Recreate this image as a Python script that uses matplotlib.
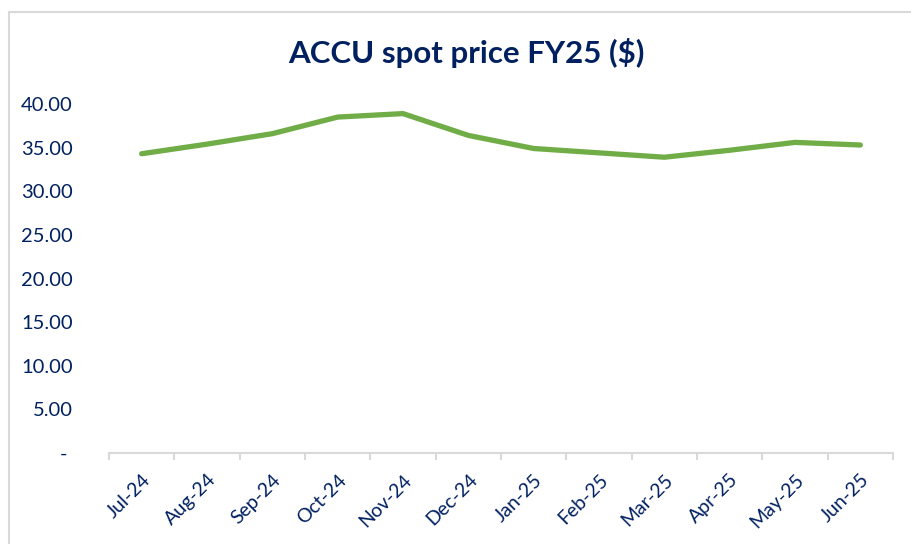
import matplotlib.pyplot as plt
from matplotlib.patches import Rectangle
from matplotlib.ticker import FixedLocator, FuncFormatter

months = ['Jul-24', 'Aug-24', 'Sep-24', 'Oct-24', 'Nov-24', 'Dec-24',
          'Jan-25', 'Feb-25', 'Mar-25', 'Apr-25', 'May-25', 'Jun-25']
price = [34.3, 35.4, 36.6, 38.5, 38.9, 36.4,
         34.9, 34.4, 33.9, 34.7, 35.6, 35.3]

navy = '#002060'
green = '#70AD47'
grey = '#D9D9D9'

plt.rcParams['font.family'] = ['Lato', 'DejaVu Sans']

fig = plt.figure(figsize=(9.12, 5.44), dpi=100)
ax = fig.add_axes([109 / 912, 1 - 453 / 544, (893 - 109) / 912, (453 - 104) / 544])

x = range(len(months))
ax.plot(x, price, color=green, lw=3.8, solid_capstyle='round', solid_joinstyle='round')

ax.set_xlim(-0.5, len(months) - 0.5)
ax.set_ylim(0, 40)
ax.set_yticks(range(0, 41, 5))
ax.yaxis.set_major_formatter(FuncFormatter(lambda v, p: '- ' if v == 0 else f'{v:.2f}'))
ax.tick_params(axis='y', length=0, pad=26, labelsize=14.5, labelcolor=navy)

ax.set_xticks(list(x))
ax.set_xticklabels(months, rotation=45, ha='right', rotation_mode='anchor')
ax.tick_params(axis='x', which='major', length=0, pad=13, labelsize=14, labelcolor=navy)
ax.xaxis.set_minor_locator(FixedLocator([i - 0.5 for i in range(len(months) + 1)]))
ax.tick_params(axis='x', which='minor', length=5, width=1.5, color=grey, direction='out')

for s in ['top', 'right', 'left']:
    ax.spines[s].set_visible(False)
ax.spines['bottom'].set_color(grey)
ax.spines['bottom'].set_linewidth(1.5)

fig.text(466 / 912, 1 - 53 / 544, 'ACCU spot price FY25 ($)', ha='center', va='center',
         fontsize=22.5, fontweight='bold', color=navy)

# chart frame
fig.patches.append(Rectangle((9.5 / 912, -0.1), 1.2, 1 - 11.5 / 544 + 0.1,
                             transform=fig.transFigure, fill=False,
                             edgecolor=grey, lw=1.5))

fig.savefig('out.png', dpi=100)
